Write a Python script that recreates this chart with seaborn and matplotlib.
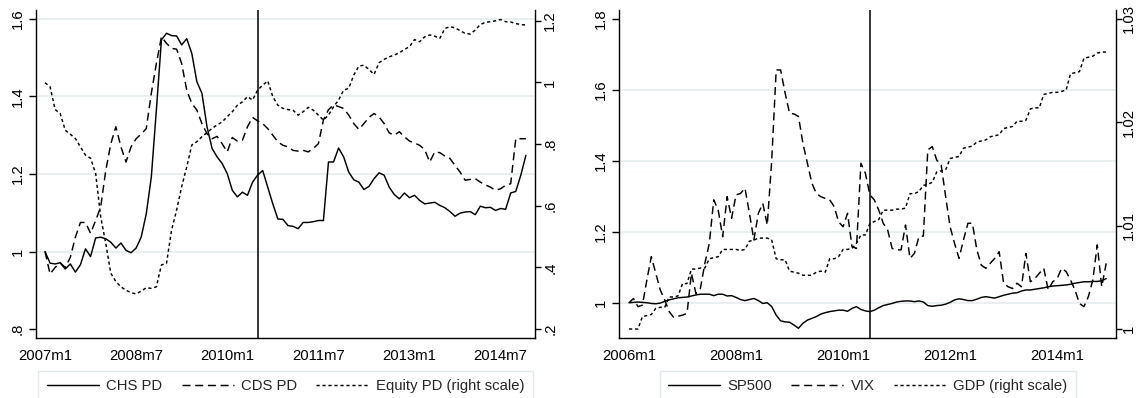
import numpy as np
import pandas as pd
import matplotlib
matplotlib.use("Agg")
import matplotlib.pyplot as plt
from matplotlib.lines import Line2D
import seaborn as sns

# ---------------- data ----------------
left_tick_labels = ["2007m1", "2008m7", "2010m1", "2011m7", "2013m1", "2014m7"]
left_tick_months = [0, 18, 36, 54, 72, 90]          # months since 2007m1
left_event_month = 42                               # 2010m7

chs_pd = [1.000, 0.970, 0.968, 0.971, 0.955, 0.968, 0.947, 0.966, 1.007, 0.987,
          1.035, 1.037, 1.033, 1.024, 1.009, 1.022, 1.003, 0.997, 1.009, 1.037,
          1.097, 1.192, 1.365, 1.546, 1.563, 1.557, 1.556, 1.533, 1.549, 1.511,
          1.438, 1.408, 1.322, 1.266, 1.244, 1.227, 1.201, 1.158, 1.141, 1.153,
          1.145, 1.179, 1.197, 1.209, 1.166, 1.123, 1.084, 1.083, 1.067, 1.065,
          1.059, 1.075, 1.075, 1.077, 1.080, 1.080, 1.231, 1.231, 1.267, 1.244,
          1.205, 1.185, 1.179, 1.160, 1.168, 1.188, 1.203, 1.197, 1.166, 1.147,
          1.136, 1.151, 1.139, 1.145, 1.132, 1.123, 1.125, 1.127, 1.119, 1.113,
          1.103, 1.091, 1.099, 1.102, 1.103, 1.095, 1.117, 1.113, 1.114, 1.106,
          1.111, 1.109, 1.151, 1.155, 1.197, 1.248]

cds_pd = [1.000, 0.942, 0.959, 0.971, 0.959, 0.985, 1.037, 1.075, 1.075, 1.047,
          1.080, 1.115, 1.209, 1.278, 1.322, 1.270, 1.231, 1.270, 1.291, 1.303,
          1.317, 1.408, 1.485, 1.554, 1.537, 1.524, 1.522, 1.485, 1.416, 1.382,
          1.365, 1.330, 1.304, 1.291, 1.297, 1.278, 1.257, 1.294, 1.285, 1.287,
          1.322, 1.346, 1.337, 1.330, 1.317, 1.300, 1.283, 1.274, 1.270, 1.261,
          1.259, 1.261, 1.257, 1.266, 1.278, 1.339, 1.366, 1.378, 1.374, 1.369,
          1.352, 1.330, 1.315, 1.330, 1.346, 1.356, 1.347, 1.330, 1.306, 1.300,
          1.309, 1.296, 1.285, 1.280, 1.274, 1.263, 1.231, 1.257, 1.255, 1.246,
          1.240, 1.222, 1.205, 1.184, 1.186, 1.188, 1.179, 1.172, 1.166, 1.158,
          1.162, 1.171, 1.175, 1.291, 1.291, 1.291]

equity_pd = [0.999, 0.986, 0.912, 0.899, 0.845, 0.832, 0.818, 0.791, 0.764, 0.754,
             0.705, 0.564, 0.478, 0.381, 0.354, 0.337, 0.326, 0.318, 0.314, 0.323,
             0.334, 0.332, 0.337, 0.408, 0.413, 0.521, 0.586, 0.662, 0.726, 0.797,
             0.808, 0.824, 0.837, 0.851, 0.862, 0.872, 0.889, 0.905, 0.926, 0.937,
             0.954, 0.943, 0.975, 0.991, 1.005, 0.954, 0.926, 0.916, 0.912, 0.910,
             0.894, 0.905, 0.919, 0.910, 0.894, 0.878, 0.894, 0.921, 0.943, 0.975,
             0.981, 1.024, 1.053, 1.056, 1.042, 1.026, 1.064, 1.075, 1.083, 1.089,
             1.096, 1.107, 1.116, 1.139, 1.132, 1.148, 1.154, 1.150, 1.143, 1.175,
             1.181, 1.177, 1.168, 1.159, 1.157, 1.170, 1.188, 1.195, 1.197, 1.200,
             1.204, 1.197, 1.196, 1.191, 1.188, 1.186]

right_tick_labels = ["2006m1", "2008m1", "2010m1", "2012m1", "2014m1"]
right_tick_months = [0, 24, 48, 72, 96]             # months since 2006m1
right_event_month = 54                              # 2010m7

sp500 = [1.000, 1.001, 1.002, 1.001, 1.000, 0.998, 0.997, 0.999, 1.004, 1.008,
         1.011, 1.014, 1.015, 1.016, 1.019, 1.022, 1.024, 1.024, 1.024, 1.020,
         1.024, 1.024, 1.019, 1.020, 1.015, 1.009, 1.006, 1.009, 1.012, 1.006,
         0.998, 1.000, 0.989, 0.965, 0.949, 0.946, 0.945, 0.937, 0.928, 0.942,
         0.951, 0.956, 0.961, 0.968, 0.972, 0.975, 0.977, 0.979, 0.979, 0.976,
         0.984, 0.989, 0.981, 0.977, 0.975, 0.979, 0.986, 0.992, 0.995, 0.998,
         1.002, 1.004, 1.005, 1.005, 1.003, 1.005, 1.002, 0.992, 0.990, 0.992,
         0.993, 0.996, 1.001, 1.008, 1.011, 1.009, 1.006, 1.006, 1.010, 1.015,
         1.017, 1.015, 1.013, 1.017, 1.021, 1.024, 1.027, 1.028, 1.033, 1.036,
         1.036, 1.038, 1.040, 1.042, 1.045, 1.047, 1.048, 1.049, 1.050, 1.052,
         1.055, 1.057, 1.059, 1.059, 1.060, 1.060, 1.062, 1.068]

vix = [1.000, 1.012, 0.989, 0.993, 1.064, 1.130, 1.083, 1.036, 1.008, 0.975,
       0.959, 0.962, 0.965, 0.970, 1.083, 1.026, 1.040, 1.111, 1.167, 1.290,
       1.261, 1.186, 1.299, 1.238, 1.304, 1.308, 1.323, 1.252, 1.177, 1.252,
       1.280, 1.219, 1.402, 1.656, 1.656, 1.591, 1.534, 1.532, 1.525, 1.449,
       1.393, 1.337, 1.308, 1.299, 1.294, 1.290, 1.271, 1.228, 1.214, 1.252,
       1.158, 1.153, 1.393, 1.365, 1.304, 1.290, 1.261, 1.224, 1.205, 1.153,
       1.149, 1.149, 1.219, 1.125, 1.139, 1.186, 1.188, 1.431, 1.440, 1.402,
       1.388, 1.299, 1.214, 1.167, 1.125, 1.177, 1.224, 1.224, 1.149, 1.106,
       1.097, 1.111, 1.125, 1.144, 1.055, 1.045, 1.040, 1.055, 1.045, 1.139,
       1.059, 1.068, 1.083, 1.097, 1.036, 1.059, 1.068, 1.097, 1.088, 1.064,
       1.036, 0.998, 0.989, 1.017, 1.064, 1.163, 1.045, 1.111]

gdp = [1.0000, 1.0000, 1.0000, 1.0012, 1.0013, 1.0014, 1.0020, 1.0021, 1.0021, 1.0031,
       1.0031, 1.0032, 1.0044, 1.0044, 1.0058, 1.0058, 1.0059, 1.0059, 1.0068, 1.0069,
       1.0070, 1.0077, 1.0077, 1.0077, 1.0077, 1.0076, 1.0077, 1.0085, 1.0086, 1.0088,
       1.0088, 1.0088, 1.0086, 1.0068, 1.0067, 1.0067, 1.0056, 1.0055, 1.0054, 1.0052,
       1.0052, 1.0052, 1.0055, 1.0056, 1.0055, 1.0068, 1.0068, 1.0070, 1.0077, 1.0077,
       1.0078, 1.0083, 1.0091, 1.0091, 1.0102, 1.0104, 1.0106, 1.0115, 1.0115, 1.0115,
       1.0116, 1.0116, 1.0117, 1.0131, 1.0131, 1.0133, 1.0139, 1.0140, 1.0142, 1.0152,
       1.0153, 1.0154, 1.0165, 1.0166, 1.0167, 1.0175, 1.0176, 1.0177, 1.0181, 1.0182,
       1.0183, 1.0186, 1.0187, 1.0188, 1.0194, 1.0195, 1.0196, 1.0201, 1.0201, 1.0202,
       1.0213, 1.0214, 1.0214, 1.0227, 1.0228, 1.0229, 1.0229, 1.0230, 1.0231, 1.0247,
       1.0248, 1.0249, 1.0262, 1.0263, 1.0264, 1.0267, 1.0268, 1.0268]

# ---------------- style ----------------
sns.set_style("white")
plt.rcParams["font.family"] = ["Liberation Sans", "DejaVu Sans"]
FS = 10.7
LW = 1.05
GRID_C = "#e6eef0"
SOLID = "-"
LONG = (0, (5.5, 3.2))
SHORT = (0, (2.2, 1.9))

fig = plt.figure(figsize=(11.36, 3.98), dpi=100)
axL = fig.add_axes([36 / 1136, 1 - 338 / 398, 499 / 1136, 328 / 398])
axR = fig.add_axes([619.3 / 1136, 1 - 338 / 398, 496.7 / 1136, 328 / 398])


def style_axes(ax, twin, twin_pad):
    for a in (ax, twin):
        a.spines["top"].set_visible(False)
        for s in ("left", "bottom", "right"):
            a.spines[s].set_color("black")
            a.spines[s].set_linewidth(1.0)
        a.tick_params(axis="both", direction="out", length=5, width=1.0,
                      colors="black", labelsize=FS, pad=3)
        a.set_xlabel("")
        a.set_ylabel("")
    twin.tick_params(axis="y", length=4.5, pad=twin_pad)
    ax.spines["right"].set_visible(False)
    twin.spines["left"].set_visible(False)
    twin.spines["bottom"].set_visible(False)
    ax.yaxis.set_ticks_position("left")
    twin.yaxis.set_ticks_position("right")
    for lab in ax.get_yticklabels() + twin.get_yticklabels():
        lab.set_rotation(90)
        lab.set_va("center")


def fmt(v):
    s = ("%.2f" % v).rstrip("0").rstrip(".")
    if s.startswith("0."):
        s = s[1:]
    return s


def draw_panel(ax, months, series_left, styles_left, labels_left,
               series_right, style_right, label_right,
               ylim, yticks, grid_vals, ylim2, yticks2,
               xlim, xticks, xticklabels, event, twin_pad):
    twin = ax.twinx()
    for yv in grid_vals:
        ax.axhline(yv, color=GRID_C, lw=1.3, zorder=0)
    handles = []
    for ser, ls, lab in zip(series_left, styles_left, labels_left):
        df = pd.DataFrame({"month": months, "value": ser})
        sns.lineplot(data=df, x="month", y="value", ax=ax, color="black",
                     linewidth=LW, linestyle=ls, legend=False)
        handles.append(Line2D([], [], color="black", lw=LW, linestyle=ls, label=lab))
    df2 = pd.DataFrame({"month": months, "value": series_right})
    sns.lineplot(data=df2, x="month", y="value", ax=twin, color="black",
                 linewidth=LW, linestyle=style_right, legend=False)
    handles.append(Line2D([], [], color="black", lw=LW, linestyle=style_right, label=label_right))
    ax.axvline(event, color="black", lw=1.1, zorder=5)

    ax.set_xlim(*xlim)
    ax.set_xticks(xticks)
    ax.set_xticklabels(xticklabels)
    ax.set_ylim(*ylim)
    ax.set_yticks(yticks)
    ax.set_yticklabels([fmt(v) for v in yticks])
    twin.set_ylim(*ylim2)
    twin.set_yticks(yticks2)
    twin.set_yticklabels([fmt(v) for v in yticks2])
    ax.grid(False)
    twin.grid(False)
    style_axes(ax, twin, twin_pad)

    pos = ax.get_position()
    cx = pos.x0 + pos.width / 2
    leg = fig.legend(handles=handles, loc="upper center",
                     bbox_to_anchor=(cx, 1 - 371 / 398), bbox_transform=fig.transFigure,
                     ncol=3, frameon=True, fancybox=False, fontsize=FS,
                     handlelength=3.5, handletextpad=0.5, columnspacing=1.3,
                     borderpad=0.55, borderaxespad=0.0)
    leg.get_frame().set_edgecolor("#dce5e7")
    leg.get_frame().set_linewidth(1.0)
    return twin


draw_panel(axL, np.arange(len(chs_pd)),
           [chs_pd, cds_pd], [SOLID, LONG], ["CHS PD", "CDS PD"],
           equity_pd, SHORT, "Equity PD (right scale)",
           (0.777, 1.623), [0.8, 1.0, 1.2, 1.4, 1.6], [1.0, 1.2, 1.4, 1.6],
           (0.171, 1.235), [0.2, 0.4, 0.6, 0.8, 1.0, 1.2],
           (-1.78, 96.8), left_tick_months, left_tick_labels, left_event_month, 1.5)

draw_panel(axR, np.arange(len(sp500)),
           [sp500, vix], [SOLID, LONG], ["SP500", "VIX"],
           gdp, SHORT, "GDP (right scale)",
           (0.9006, 1.825), [1.0, 1.2, 1.4, 1.6, 1.8], [1.0, 1.2, 1.4, 1.6],
           (0.99913, 1.03087), [1.0, 1.01, 1.02, 1.03],
           (-2.18, 109.2), right_tick_months, right_tick_labels, right_event_month, 0.0)

fig.savefig("out.png", dpi=100, facecolor="white")
